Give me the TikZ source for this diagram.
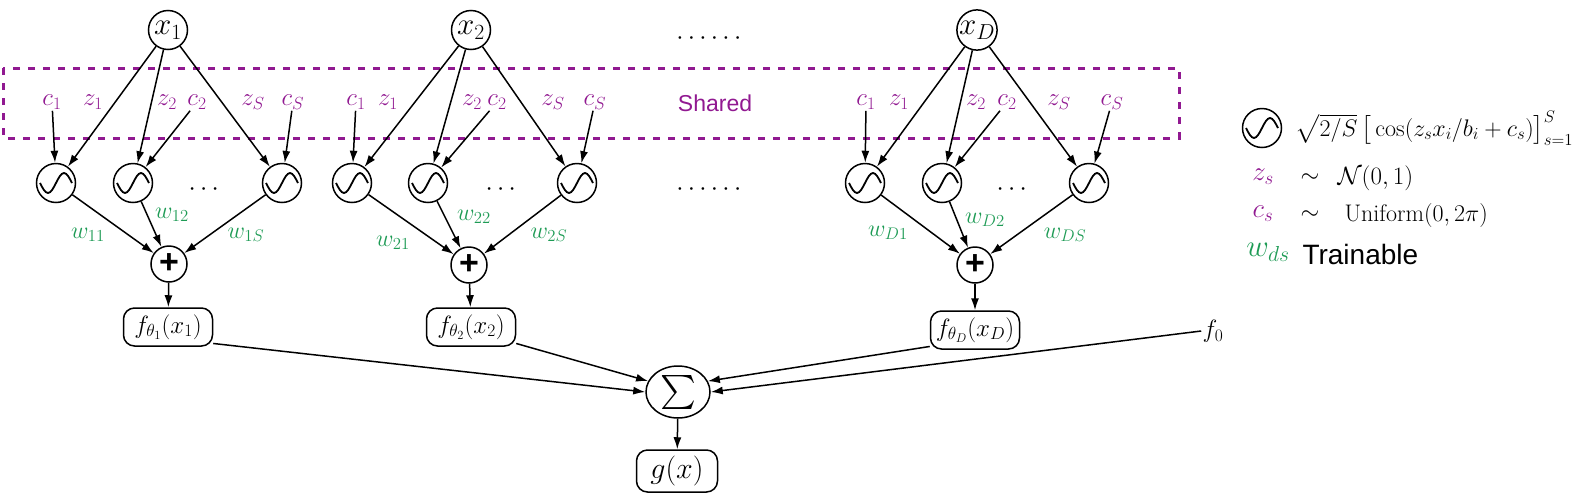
\RequirePackage{fix-cm}
\documentclass[tikz,border=0pt]{standalone}
\usepackage{amsmath}
\usepackage{amssymb}
\usepackage{fontspec}
\newfontfamily\helv{Liberation Sans}
\usepackage{tikz}
\usetikzlibrary{arrows.meta}
\usetikzlibrary{shapes.geometric}

\definecolor{shpurple}{RGB}{145,25,145}
\definecolor{wgreen}{RGB}{30,155,85}

\tikzset{
  arr/.style={-{Latex[length=12pt,width=8pt]}},
  inpnode/.style={draw, circle, minimum size=39pt, inner sep=0pt, font=\fontsize{31}{34}\selectfont},
  oscnode/.style={draw, circle, minimum size=39pt, inner sep=0pt,
    path picture={\draw [line width=1.8pt] ([xshift=-16pt]path picture bounding box.center) sin ++(8,-10) cos ++(8,10) sin ++(8,10) cos ++(8,-10);}},
  plusnode/.style={draw, circle, minimum size=36pt, inner sep=0pt, font=\helv\bfseries\fontsize{34}{36}\selectfont},
  fbox/.style={draw, rounded corners=11pt, minimum width=89pt, minimum height=38pt, inner sep=1pt, font=\fontsize{25}{28}\selectfont},
  clbl/.style={text=shpurple, inner sep=0.75pt, font=\fontsize{25}{28}\selectfont},
  wlbl/.style={text=wgreen, inner sep=0.75pt, font=\fontsize{24}{27}\selectfont},
  dotsnode/.style={inner sep=0pt, font=\fontsize{26}{30}\selectfont},
  shbox/.style={draw=shpurple, line width=3pt, dash pattern=on 7pt off 8pt},
}

\begin{document}
\begin{tikzpicture}[x=1pt,y=1pt,yscale=-1,xscale=1,line width=1.5pt]
\useasboundingbox (0,0) rectangle (1588,496);
% shared region
\draw [shbox] (3,68) rectangle (1179,138) ;
\node [text=shpurple, inner sep=0.75pt, font=\helv\fontsize{23}{26}\selectfont] (shtxt) at (715,103) {Shared};
\node [dotsnode] (dtop) at (711,39) {$\cdots\cdots$};
\node [dotsnode] (dmid) at (711,190) {$\cdots\cdots$};

% first input
\node [inpnode] (x1) at (168,30) {$x_1$};
\node [clbl] (c11) at (52,102) {$c_1$};
\node [clbl] (z11) at (93,102) {$z_1$};
\node [clbl] (z12) at (167,102) {$z_2$};
\node [clbl] (c12) at (197,102) {$c_2$};
\node [clbl] (z1S) at (253,102) {$z_S$};
\node [clbl] (c1S) at (293,102) {$c_S$};
\node [oscnode] (o11) at (56,183) {};
\node [oscnode] (o12) at (133,183) {};
\node [oscnode] (o1S) at (282,183) {};
\node [dotsnode] (d1) at (206,190) {$\cdots$};
\node [wlbl] (w11) at (88,235) {$w_{11}$};
\node [wlbl] (w12) at (172,215) {$w_{12}$};
\node [wlbl] (w1S) at (246,235) {$w_{1S}$};
\node [plusnode] (p1) at (169,264) {+};
\node [fbox] (f1) at (168,327) {$f_{\theta_1}(x_1)$};
\draw [arr] (x1) -- (o11) ;
\draw [arr] (x1) -- (o12) ;
\draw [arr] (x1) -- (o1S) ;
\draw [arr] (c11) -- (o11) ;
\draw [arr] (c12) -- (o12) ;
\draw [arr] (c1S) -- (o1S) ;
\draw [arr] (o11) -- (p1) ;
\draw [arr] (o12) -- (p1) ;
\draw [arr] (o1S) -- (p1) ;
\draw [arr] (p1) -- (f1) ;

% second input
\node [inpnode] (x2) at (471,30) {$x_2$};
\node [clbl] (c21) at (356,102) {$c_1$};
\node [clbl] (z21) at (388,102) {$z_1$};
\node [clbl] (z22) at (472,102) {$z_2$};
\node [clbl] (c22) at (497,102) {$c_2$};
\node [clbl] (z2S) at (553,102) {$z_S$};
\node [clbl] (c2S) at (595,102) {$c_S$};
\node [oscnode] (o21) at (352,183) {};
\node [oscnode] (o22) at (428,183) {};
\node [oscnode] (o2S) at (577,183) {};
\node [dotsnode] (d2) at (503,190) {$\cdots$};
\node [wlbl] (w21) at (393,243) {$w_{21}$};
\node [wlbl] (w22) at (474,217) {$w_{22}$};
\node [wlbl] (w2S) at (549,235) {$w_{2S}$};
\node [plusnode] (p2) at (469,265) {+};
\node [fbox] (f2) at (471,327) {$f_{\theta_2}(x_2)$};
\draw [arr] (x2) -- (o21) ;
\draw [arr] (x2) -- (o22) ;
\draw [arr] (x2) -- (o2S) ;
\draw [arr] (c21) -- (o21) ;
\draw [arr] (c22) -- (o22) ;
\draw [arr] (c2S) -- (o2S) ;
\draw [arr] (o21) -- (p2) ;
\draw [arr] (o22) -- (p2) ;
\draw [arr] (o2S) -- (p2) ;
\draw [arr] (p2) -- (f2) ;

% last input
\node [inpnode] (xD) at (977,30) {$x_D$};
\node [clbl] (cD1) at (866,102) {$c_1$};
\node [clbl] (zD1) at (899,102) {$z_1$};
\node [clbl] (zD2) at (976,102) {$z_2$};
\node [clbl] (cD2) at (1007,102) {$c_2$};
\node [clbl] (zDS) at (1059,102) {$z_S$};
\node [clbl] (cDS) at (1112,102) {$c_S$};
\node [oscnode] (oD1) at (865,183) {};
\node [oscnode] (oD2) at (942,183) {};
\node [oscnode] (oDS) at (1089,183) {};
\node [dotsnode] (dD) at (1014,190) {$\cdots$};
\node [wlbl] (wD1) at (888,233) {$w_{D1}$};
\node [wlbl] (wD2) at (985,220) {$w_{D2}$};
\node [wlbl] (wDS) at (1065,235) {$w_{DS}$};
\node [plusnode] (pD) at (975,265) {+};
\node [fbox] (fD) at (975,330) {$f_{\theta_D}(x_D)$};
\draw [arr] (xD) -- (oD1) ;
\draw [arr] (xD) -- (oD2) ;
\draw [arr] (xD) -- (oDS) ;
\draw [arr] (cD1) -- (oD1) ;
\draw [arr] (cD2) -- (oD2) ;
\draw [arr] (cDS) -- (oDS) ;
\draw [arr] (oD1) -- (pD) ;
\draw [arr] (oD2) -- (pD) ;
\draw [arr] (oDS) -- (pD) ;
\draw [arr] (pD) -- (fD) ;

% sum
\node [draw, ellipse, minimum width=64pt, minimum height=52pt, inner sep=0pt, font=\fontsize{34}{36}\selectfont] (sig) at (678,392) {$\sum$};
\node [draw, rounded corners=11pt, minimum width=81pt, minimum height=42pt, inner sep=1pt, font=\fontsize{30}{32}\selectfont] (gx) at (677,471) {$g(x)$};
\node [inner sep=0.75pt, font=\fontsize{25}{28}\selectfont] (f0) at (1213,331) {$f_0$};
\draw [arr] (f1.-20) -- (sig.west) ;
\draw [arr] (f2.-20) -- (sig.160) ;
\draw [arr] (fD.200) -- (sig.20) ;
\draw [arr] (f0.west) -- (sig.east) ;
\draw [arr] (sig) -- (gx) ;

% legend
\node [oscnode] (loc) at (1262,128) {};
\node [anchor=west, inner sep=0.75pt, font=\fontsize{24}{28}\selectfont] (lform) at (1294,128) {$\sqrt{2/S}\,\big[\cos(z_s x_i/b_i+c_s)\big]_{s=1}^{S}$};
\node [clbl, font=\fontsize{27}{30}\selectfont] (lz) at (1263,177) {$z_s$};
\node [inner sep=0.75pt, font=\fontsize{24}{28}\selectfont] (lsim1) at (1310,178) {$\sim$};
\node [anchor=west, inner sep=0.75pt, font=\fontsize{25}{28}\selectfont] (lnorm) at (1336,178) {$\mathcal{N}(0,1)$};
\node [clbl, font=\fontsize{27}{30}\selectfont] (lc) at (1263,214) {$c_s$};
\node [inner sep=0.75pt, font=\fontsize{24}{28}\selectfont] (lsim2) at (1310,215) {$\sim$};
\node [anchor=west, inner sep=0.75pt, font=\fontsize{24}{28}\selectfont] (lunif) at (1343,215) {$\mathrm{Uniform}(0,2\pi)$};
\node [wlbl, font=\fontsize{31}{34}\selectfont] (lw) at (1268,252) {$w_{ds}$};
\node [anchor=west, inner sep=0.75pt, font=\helv\fontsize{28}{30}\selectfont] (ltrain) at (1301,254) {Trainable};
\end{tikzpicture}
\end{document}
